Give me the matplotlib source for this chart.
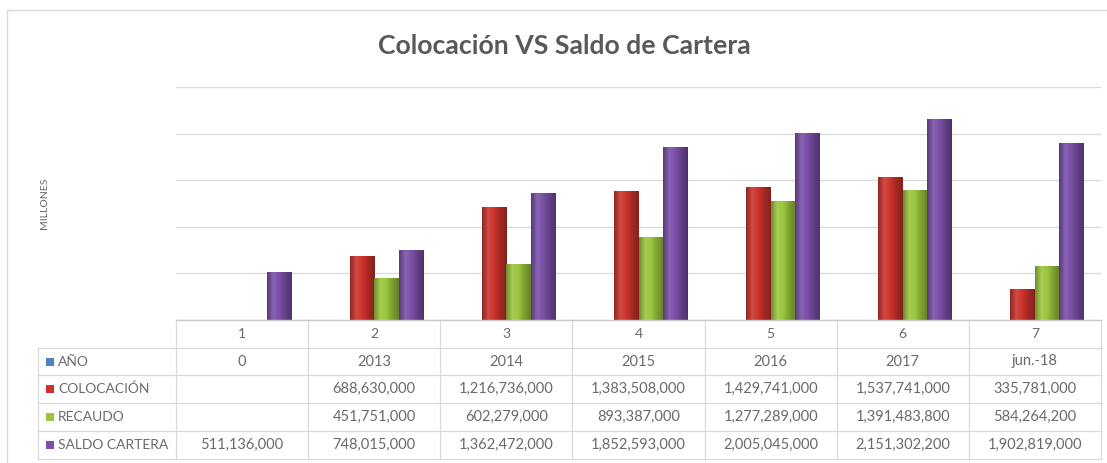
import numpy as np
import matplotlib
matplotlib.use("Agg")
import matplotlib.pyplot as plt
import matplotlib.transforms as mtransforms
from matplotlib.colors import LinearSegmentedColormap
from matplotlib.lines import Line2D
from matplotlib.patches import Rectangle

plt.rcParams['font.family'] = ['Lato', 'DejaVu Sans']

# data (pesos)
categories = ['1', '2', '3', '4', '5', '6', '7']
anio = ['0', '2013', '2014', '2015', '2016', '2017', 'jun.-18']
colocacion = [None, 688630000, 1216736000, 1383508000, 1429741000, 1537741000, 335781000]
recaudo = [None, 451751000, 602279000, 893387000, 1277289000, 1391483800, 584264200]
saldo_cartera = [511136000, 748015000, 1362472000, 1852593000, 2005045000, 2151302200, 1902819000]

row_names = ['AÑO', 'COLOCACIÓN', 'RECAUDO', 'SALDO CARTERA']
row_colors = ['#4F81BD', '#CC322B', '#9BC53D', '#7A4FA8']

W, H = 1107, 463
fig = plt.figure(figsize=(W / 100, H / 100), dpi=100)
fig.patch.set_facecolor('white')


def fx(px):
    return px / W


def fy(py):
    return 1 - py / H


ax_left, ax_right, ax_top, ax_bot = 176, 1101, 87, 320
ax = fig.add_axes([fx(ax_left), fy(ax_bot), fx(ax_right - ax_left), (ax_bot - ax_top) / H])

x = np.arange(len(categories))
w = 0.185
offsets = [-1.5 * w, -0.5 * w, 0.5 * w, 1.5 * w]


def to_millions(vals):
    return np.array([v / 1e6 if v is not None else 0 for v in vals])


bar_series = [
    (colocacion, row_colors[1], offsets[1]),
    (recaudo, row_colors[2], offsets[2]),
    (saldo_cartera, row_colors[3], offsets[3]),
]


def shade(c, f):
    rgb = np.array(matplotlib.colors.to_rgb(c))
    if f < 1:
        return tuple(rgb * f)
    return tuple(rgb + (1 - rgb) * (f - 1))


# bars with a soft cylinder-like shading
for vals, color, off in bar_series:
    bars = ax.bar(x + off, to_millions(vals), width=w, color=color, zorder=3, linewidth=0)
    cmap = LinearSegmentedColormap.from_list(
        'cyl', [shade(color, 0.72), shade(color, 1.12), shade(color, 1.0), shade(color, 0.8), shade(color, 0.65)])
    grad = np.linspace(0, 1, 64).reshape(1, -1)
    for b in bars:
        if b.get_height() <= 0:
            continue
        x0, y0 = b.get_x(), b.get_y()
        im = ax.imshow(grad, cmap=cmap, aspect='auto', zorder=4,
                       extent=(x0, x0 + b.get_width(), y0, y0 + b.get_height()))
        im.set_clip_path(b)

ax.set_xlim(-0.5, len(categories) - 0.5)
ax.set_ylim(0, 2500)
ax.set_yticks(np.arange(0, 2501, 500))
ax.set_yticklabels([])
ax.set_xticks([])
ax.tick_params(length=0)
ax.grid(axis='y', color='#D9D9D9', linewidth=0.9, zorder=0)
for s in ax.spines.values():
    s.set_visible(False)
ax.set_facecolor('none')

# outer chart border
fig.add_artist(Rectangle((fx(7), fy(470)), 1.2, (470 - 10) / H, transform=fig.transFigure,
                         fill=False, edgecolor='#D9D9D9', linewidth=1.0))

# title and axis label
fig.text(fx(564), fy(46), 'Colocación VS Saldo de Cartera', ha='center', va='center',
         fontsize=19.2, fontweight='bold', color='#595959')
fig.text(fx(45), fy(203), 'MILLONES', rotation=90, ha='center', va='center',
         fontsize=7.5, color='#666666')

# data table
line_c = '#D9D9D9'
trans = mtransforms.blended_transform_factory(ax.transData, fig.transFigure)
row_edges = [320, 348, 375, 403, 431, 459]
row_centers = [(row_edges[i] + row_edges[i + 1]) / 2 for i in range(len(row_edges) - 1)]

for xe in np.arange(-0.5, len(categories), 1.0):
    fig.add_artist(Line2D([xe, xe], [fy(320), fy(459)], transform=trans, color=line_c, linewidth=0.9))
fig.add_artist(Line2D([fx(38), fx(38)], [fy(348), fy(459)], transform=fig.transFigure,
                      color=line_c, linewidth=0.9))
fig.add_artist(Line2D([fx(ax_left), fx(ax_right)], [fy(320), fy(320)], transform=fig.transFigure,
                      color='#C8C8C8', linewidth=1.0))
for ye in row_edges[1:]:
    fig.add_artist(Line2D([fx(38), fx(ax_right)], [fy(ye), fy(ye)], transform=fig.transFigure,
                          color=line_c, linewidth=0.9))


def fmt(v):
    return '' if v is None else f'{v:,.0f}'


table_rows = [anio, [fmt(v) for v in colocacion], [fmt(v) for v in recaudo], [fmt(v) for v in saldo_cartera]]
txt_c = '#6A6A6A'
for i, c in enumerate(categories):
    fig.text(x[i], fy(row_centers[0]), c, transform=trans, ha='center', va='center', fontsize=10, color=txt_c)
for r, (name, color, cells) in enumerate(zip(row_names, row_colors, table_rows)):
    yc = row_centers[r + 1]
    fig.add_artist(Rectangle((fx(46), fy(yc + 4)), fx(8), 8 / H, transform=fig.transFigure,
                             facecolor=color, edgecolor='none'))
    fig.text(fx(58), fy(yc), name, ha='left', va='center', fontsize=10, color=txt_c)
    for i, cell in enumerate(cells):
        fig.text(x[i], fy(yc), cell, transform=trans, ha='center', va='center', fontsize=10.5, color=txt_c)

fig.savefig('out.png', dpi=100, facecolor='white')
